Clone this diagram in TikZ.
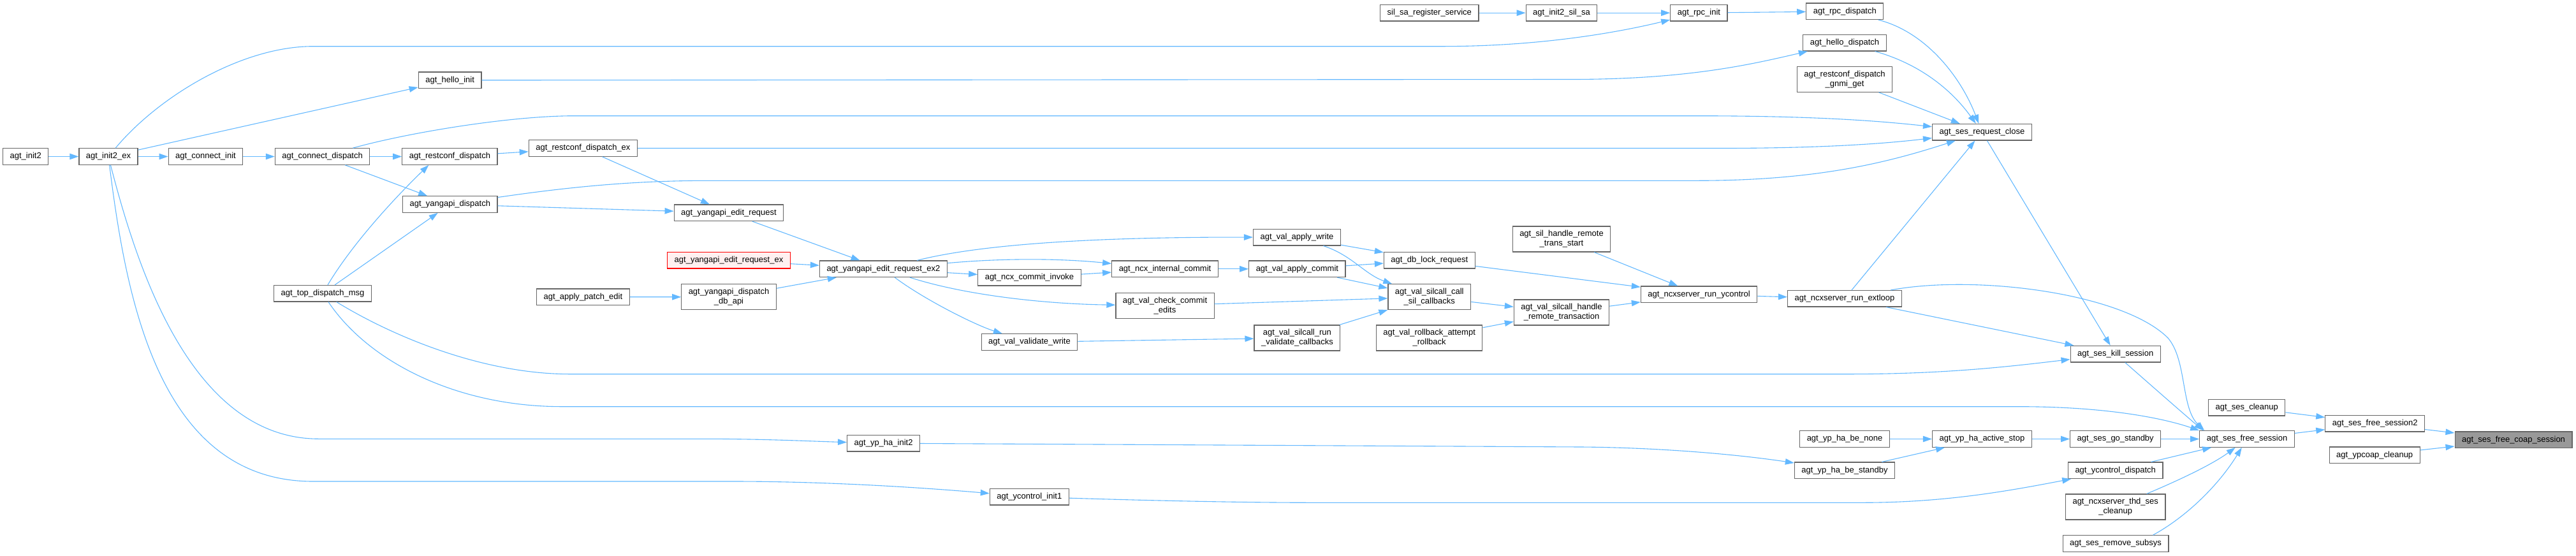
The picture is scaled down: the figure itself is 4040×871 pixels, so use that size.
\documentclass[tikz,border=0pt]{standalone}
\usepackage{fontspec}
\setmainfont{Liberation Sans}
\usetikzlibrary{arrows.meta}

\definecolor{edgeblue}{HTML}{63B8FF}
\definecolor{boxgray}{HTML}{666666}
\definecolor{focusgray}{HTML}{999999}
\definecolor{warnfill}{HTML}{FFF0F0}

\begin{document}
\begin{tikzpicture}[
    x=1pt, y=-1pt,
    every node/.style={
      rectangle, draw=boxgray, fill=white, line width=1.2pt,
      font=\fontsize{13}{15}\selectfont, align=center,
      inner xsep=11pt, inner ysep=2pt, minimum height=25.5pt
    },
    two/.style={minimum height=40pt},
    focus/.style={fill=focusgray},
    undoc/.style={draw=red, fill=warnfill},
    call/.style={draw=edgeblue, line width=1.1pt,
      -{Triangle[length=14pt,width=9.5pt]}}
    ]
  \useasboundingbox (0,0) rectangle (4040,871);

  \node[focus] (n0) at (3942,689.8) {agt\_ses\_free\_coap\_session};
  \node (n1-1) at (3724.7,664.3) {agt\_ses\_free\_session2};
  \node (n1-2) at (3724.2,713.8) {agt\_ypcoap\_cleanup};
  \node (n2-1) at (3523.7,639.2) {agt\_ses\_cleanup};
  \node (n2-2) at (3524,688.5) {agt\_ses\_free\_session};
  \node (n3-1) at (3317.7,555.2) {agt\_ses\_kill\_session};
  \node (n3-2) at (3317.7,688.5) {agt\_ses\_go\_standby};
  \node (n3-3) at (3317.7,737.8) {agt\_ycontrol\_dispatch};
  \node[two] (n3-4) at (3317.7,795) {agt\_ncxserver\_thd\_ses\\\_cleanup};
  \node (n3-5) at (3318,852.5) {agt\_ses\_remove\_subsys};
  \node (n4-1) at (3108.4,207.2) {agt\_ses\_request\_close};
  \node (n4-2) at (3108.4,688.5) {agt\_yp\_ha\_active\_stop};
  \node (n5-1) at (2893.3,17.8) {agt\_rpc\_dispatch};
  \node (n5-2) at (2893,67.2) {agt\_hello\_dispatch};
  \node[two] (n5-3) at (2893,124.3) {agt\_restconf\_dispatch\\\_gnmi\_get};
  \node (n5-4) at (2893,468.3) {agt\_ncxserver\_run\_extloop};
  \node (n5-5) at (2893,688.5) {agt\_yp\_ha\_be\_none};
  \node (n5-6) at (2893,737.8) {agt\_yp\_ha\_be\_standby};
  \node (n6-1) at (2664.4,20.2) {agt\_rpc\_init};
  \node (n6-2) at (2664.6,461.8) {agt\_ncxserver\_run\_ycontrol};
  \node (n7-1) at (2449,20.2) {agt\_init2\_sil\_sa};
  \node[two] (n7-2) at (2449,375) {agt\_sil\_handle\_remote\\\_trans\_start};
  \node[two] (n7-3) at (2449,490) {agt\_val\_silcall\_handle\\\_remote\_transaction};
  \node (n8-1) at (2241.8,20.2) {sil\_sa\_register\_service};
  \node (n8-2) at (2241.8,408.3) {agt\_db\_lock\_request};
  \node[two] (n8-3) at (2241.8,465.8) {agt\_val\_silcall\_call\\\_sil\_callbacks};
  \node[two] (n8-4) at (2241.6,530) {agt\_val\_rollback\_attempt\\\_rollback};
  \node (n9-1) at (2034,372.2) {agt\_val\_apply\_write};
  \node (n9-2) at (2034.4,421.8) {agt\_val\_apply\_commit};
  \node[two] (n9-3) at (2034.4,530) {agt\_val\_silcall\_run\\\_validate\_callbacks};
  \node (n10-1) at (1827,421.8) {agt\_ncx\_internal\_commit};
  \node[two] (n10-2) at (1827,479.2) {agt\_val\_check\_commit\\\_edits};
  \node (n11-1) at (1614.5,435.2) {agt\_ncx\_commit\_invoke};
  \node (n11-2) at (1614.5,536.5) {agt\_val\_validate\_write};
  \node (n11-3) at (1614.3,779.2) {agt\_ycontrol\_init1};
  \node (n12-1) at (1385.4,421.8) {agt\_yangapi\_edit\_request\_ex2};
  \node (n12-2) at (1385.6,695.2) {agt\_yp\_ha\_init2};
  \node (n13-1) at (1143,333.8) {agt\_yangapi\_edit\_request};
  \node[undoc] (n13-2) at (1143,408.3) {agt\_yangapi\_edit\_request\_ex};
  \node[two] (n13-3) at (1143,465.8) {agt\_yangapi\_dispatch\\\_db\_api};
  \node (n14-1) at (914.4,232.5) {agt\_restconf\_dispatch\_ex};
  \node (n14-2) at (914.4,465.7) {agt\_apply\_patch\_edit};
  \node (n15-1) at (705.6,125.8) {agt\_hello\_init};
  \node (n15-2) at (705.4,245.5) {agt\_restconf\_dispatch};
  \node (n15-3) at (705.8,320.5) {agt\_yangapi\_dispatch};
  \node (n16-1) at (505.6,245.5) {agt\_connect\_dispatch};
  \node (n16-2) at (506,460.2) {agt\_top\_dispatch\_msg};
  \node (n17) at (322.5,245.5) {agt\_connect\_init};
  \node (n18) at (170,245.5) {agt\_init2\_ex};
  \node (n19) at (40.2,245.5) {agt\_init2};

  \draw[call] (n19) -- (n18);
  \draw[call] (n18) -- (n17);
  \draw[call] (n17) -- (n16-1);
  \draw[call] (n16-1) -- (n15-2);
  \draw[call] (n16-1) -- (n15-3);
  \draw[call] (n16-2) -- (n15-3);
  \draw[call] (n16-2) .. controls (560,370) and (640,290) .. ([xshift=-33pt]n15-2.south);
  \draw[call] (n18) -- (n15-1);
  \draw[call] (n18) .. controls (250,150) and (380,72.7) .. (491,72.7) -- (2263,72.7)
    .. controls (2400,72.7) and (2520,55) .. (n6-1);
  \draw[call] (n15-1) -- (2464,124.5) .. controls (2650,124.5) and (2750,100) .. (n5-2);
  \draw[call] (n16-1) .. controls (640,208) and (800,181.7) .. (900,181.7) -- (2660,181.7)
    .. controls (2850,181.7) and (2950,190) .. (n4-1);
  \draw[call] (n14-1) -- (2700,232.5) .. controls (2850,232.5) and (2950,226) .. (n4-1);
  \draw[call] (n15-3) .. controls (900,292) and (1000,283.3) .. (1110,283.3) -- (2660,283.3)
    .. controls (2850,283.3) and (2960,255) .. (n4-1);
  \draw[call] (n8-1) -- (n7-1);
  \draw[call] (n7-1) -- (n6-1);
  \draw[call] (n6-1) -- (n5-1);
  \draw[call] (n5-1) .. controls (3020,50) and (3075,120) .. (n4-1);
  \draw[call] (n5-2) .. controls (3010,100) and (3060,140) .. (n4-1);
  \draw[call] (n5-3) -- (n4-1);
  \draw[call] (n4-1) -- (n3-1);
  \draw[call] (n5-4) -- (n4-1);
  \draw[call] (n5-4) -- (n3-1);
  \draw[call] (n5-4) .. controls (3100,430) and (3330,460) .. (3400,530)
    .. controls (3430,565) and (3420,640) .. ([xshift=8pt]n2-2.north west);
  \draw[call] (n3-1) .. controls (3380,610) and (3420,645) .. ([xshift=6pt]n2-2.north west);
  \draw[call] (n16-2) .. controls (620,530) and (760,586.7) .. (894,586.7) -- (2900,586.7)
    .. controls (3050,586.7) and (3150,575) .. (n3-1);
  \draw[call] (n16-2) .. controls (580,570) and (720,637.7) .. (881,637.7) -- (3166,637.7)
    .. controls (3300,637.7) and (3390,655) .. (n2-2.north west);
  \draw[call] (n5-5) -- (n4-2);
  \draw[call] (n5-6) -- (n4-2);
  \draw[call] (n4-2) -- (n3-2);
  \draw[call] (n3-2) -- (n2-2);
  \draw[call] (n3-3) -- (n2-2);
  \draw[call] (n3-4) .. controls (3420,752) and (3470,728) .. (n2-2);
  \draw[call] ([xshift=-25pt]n3-5.north east) .. controls (3430,810) and (3480,760) .. (n2-2);
  \draw[call] (n2-2) -- (n1-1);
  \draw[call] (n2-1) -- (n1-1);
  \draw[call] (n1-1) -- (n0);
  \draw[call] (n1-2) -- (n0);
  \draw[call] (n18) .. controls (215,420) and (300,688.3) .. (500,688.3) -- (1100,688.3)
    .. controls (1200,688.3) and (1270,692) .. (n12-2);
  \draw[call] (n18) .. controls (198,470) and (250,755) .. (491,755) -- (1150,755)
    .. controls (1300,755) and (1450,765) .. (n11-3);
  \draw[call] (n12-2) -- (2480,701) .. controls (2600,702) and (2720,712) .. (n5-6);
  \draw[call] (n11-3) .. controls (1800,785) and (1950,788.3) .. (2060,788.3) -- (2920,788.3)
    .. controls (3050,788.3) and (3150,770) .. (n3-3);
  \draw[call] (n15-2) -- (n14-1);
  \draw[call] (n14-1) -- (n13-1);
  \draw[call] (n15-3) -- (n13-1);
  \draw[call] (n13-1) -- (n12-1);
  \draw[call] (n13-2) -- (n12-1);
  \draw[call] (n13-3) -- (n12-1);
  \draw[call] (n14-2) -- (n13-3);
  \draw[call] (n12-1) .. controls (1550,380) and (1750,371.7) .. (n9-1);
  \draw[call] (n12-1) .. controls (1570,405) and (1660,405) .. (n10-1);
  \draw[call] (n12-1) -- (n11-1);
  \draw[call] (n11-1) -- (n10-1);
  \draw[call] (n12-1) .. controls (1520,465) and (1650,477) .. (n10-2);
  \draw[call] (n12-1) .. controls (1450,470) and (1530,510) .. (n11-2);
  \draw[call] (n10-1) -- (n9-2);
  \draw[call] (n10-2) -- (n8-3);
  \draw[call] (n11-2) -- (n9-3);
  \draw[call] (n9-1) -- (n8-2);
  \draw[call] (n9-1) .. controls (2120,400) and (2140,430) .. (n8-3);
  \draw[call] (n9-2) -- (n8-2);
  \draw[call] (n9-2) -- (n8-3);
  \draw[call] (n9-3) -- (n8-3);
  \draw[call] (n8-3) -- (n7-3);
  \draw[call] (n8-4) -- (n7-3);
  \draw[call] (n7-3) -- (n6-2);
  \draw[call] (n8-2) -- (n6-2);
  \draw[call] (n7-2) -- (n6-2);
  \draw[call] (n6-2) -- (n5-4);
\end{tikzpicture}
\end{document}
